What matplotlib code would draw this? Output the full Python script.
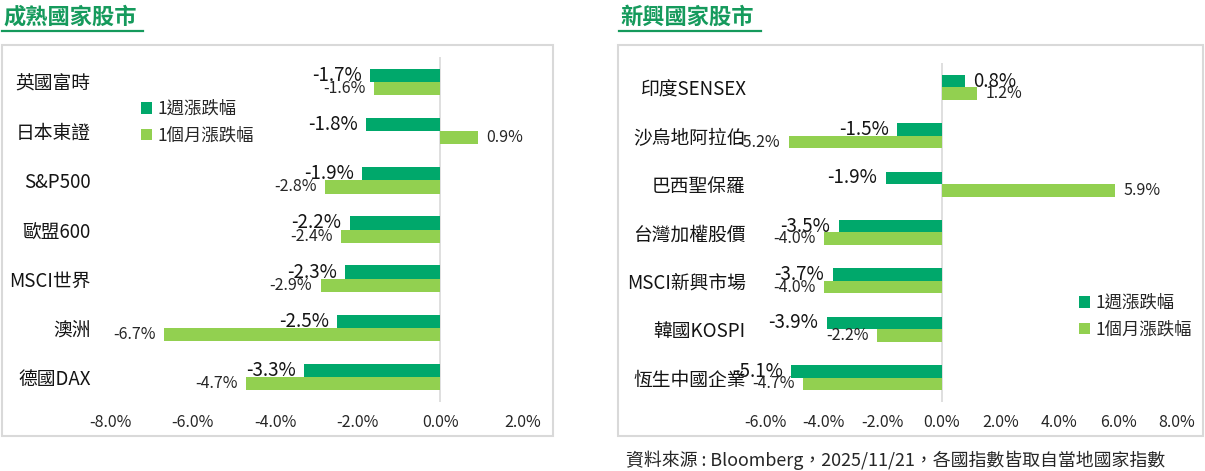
import matplotlib
matplotlib.use("Agg")
import matplotlib.pyplot as plt
from matplotlib.patches import Rectangle
from matplotlib.lines import Line2D

plt.rcParams['font.family'] = ['Noto Sans CJK TC', 'DejaVu Sans']

# ---- data ----
dev_titles = "成熟國家股市"
dev_cats = ["英國富時", "日本東證", "S&P500", "歐盟600", "MSCI世界", "澳洲", "德國DAX"]
dev_week = [-1.7, -1.8, -1.9, -2.2, -2.3, -2.5, -3.3]
dev_month = [-1.6, 0.9, -2.8, -2.4, -2.9, -6.7, -4.7]
dev_ticks = [-8, -6, -4, -2, 0, 2]

emg_title = "新興國家股市"
emg_cats = ["印度SENSEX", "沙烏地阿拉伯", "巴西聖保羅", "台灣加權股價", "MSCI新興市場", "韓國KOSPI", "恆生中國企業"]
emg_week = [0.8, -1.5, -1.9, -3.5, -3.7, -3.9, -5.1]
emg_month = [1.2, -5.2, 5.9, -4.0, -4.0, -2.2, -4.7]
emg_ticks = [-6, -4, -2, 0, 2, 4, 6, 8]

series_names = ["1週漲跌幅", "1個月漲跌幅"]
footnote = "資料來源 : Bloomberg，2025/11/21，各國指數皆取自當地國家指數"

C_WEEK = "#00A86B"
C_MONTH = "#92D050"
C_TITLE = "#159A5C"
C_TEXT = "#262626"
C_DARK = "#141414"
C_FRAME = "#D9D9D9"

W, H = 1205, 471
fig = plt.figure(figsize=(W / 100, H / 100), dpi=100)


def fx(px):
    return px / W


def fy(py):
    return 1 - py / H


def panel(rect_px, frame_px, title, title_px, cats, week, month, ticks, leg_px, bh):
    # frame
    fx0, fy0, fx1, fy1 = frame_px
    fig.patches.append(Rectangle((fx(fx0), fy(fy1)), fx(fx1 - fx0), (fy1 - fy0) / H,
                                 transform=fig.transFigure, fill=False,
                                 edgecolor=C_FRAME, lw=1.5))
    # title + underline
    tx0, tx1 = title_px
    fig.text(fx(tx0), fy(17), title, fontsize=16, fontweight='bold', color=C_TITLE,
             ha='left', va='center')
    fig.lines.append(Line2D([fx(tx0 - 1), fx(tx1)], [fy(30.5), fy(30.5)],
                            transform=fig.transFigure, color=C_TITLE, lw=1.6))

    l, t, r, b = rect_px
    ax = fig.add_axes([fx(l), fy(b), fx(r - l), (b - t) / H])
    n = len(cats)
    ys = list(range(n))
    b1 = ax.barh([y - bh / 2 for y in ys], week, height=bh, color=C_WEEK, label=series_names[0])
    b2 = ax.barh([y + bh / 2 for y in ys], month, height=bh, color=C_MONTH, label=series_names[1])
    ax.set_ylim(n - 0.5, -0.5)
    ax.set_xlim(ticks[0], ticks[-1])
    ax.axvline(0, color=C_FRAME, lw=1.2, zorder=0)
    for s in ax.spines.values():
        s.set_visible(False)
    ax.set_yticks(ys)
    ax.set_yticklabels(cats, fontsize=13.5, color=C_DARK)
    ax.set_xticks(ticks)
    ax.set_xticklabels([f"{v:.1f}%" for v in ticks], fontsize=11.5, color=C_TEXT)
    ax.tick_params(axis='y', length=0, pad=14)
    ax.tick_params(axis='x', length=0, pad=9)

    for y, v in zip(ys, week):
        off = 6 if v >= 0 else -6
        ax.annotate(f"{v:.1f}%", xy=(v, y - bh / 2), xytext=(off, 0), textcoords='offset points',
                    ha='left' if v >= 0 else 'right', va='center', fontsize=13.5,
                    color=C_DARK)
    for y, v in zip(ys, month):
        off = 6 if v >= 0 else -6
        ax.annotate(f"{v:.1f}%", xy=(v, y + bh / 2), xytext=(off, 0), textcoords='offset points',
                    ha='left' if v >= 0 else 'right', va='center', fontsize=11.5, color=C_TEXT)

    lx, ly = leg_px
    ax.legend(handles=[b1, b2], loc='upper left', bbox_to_anchor=(fx(lx), fy(ly)),
              bbox_transform=fig.transFigure, frameon=False, fontsize=12.5,
              handlelength=0.65, handleheight=0.65, handletextpad=0.3,
              labelspacing=0.5, borderpad=0, borderaxespad=0,
              labelcolor=C_TEXT)
    return ax


panel((110, 57.4, 523, 401.6), (2, 45, 553, 436), dev_titles, (3, 143),
      dev_cats, dev_week, dev_month, dev_ticks, (141, 100), 0.27)
panel((765, 63.3, 1177, 401.7), (618, 45, 1203, 436), emg_title, (620, 761),
      emg_cats, emg_week, emg_month, emg_ticks, (1079, 294), 0.26)

fig.text(fx(626), fy(460), footnote, fontsize=12.9, color=C_TEXT, ha='left', va='center')

fig.savefig("out.png", dpi=100)
